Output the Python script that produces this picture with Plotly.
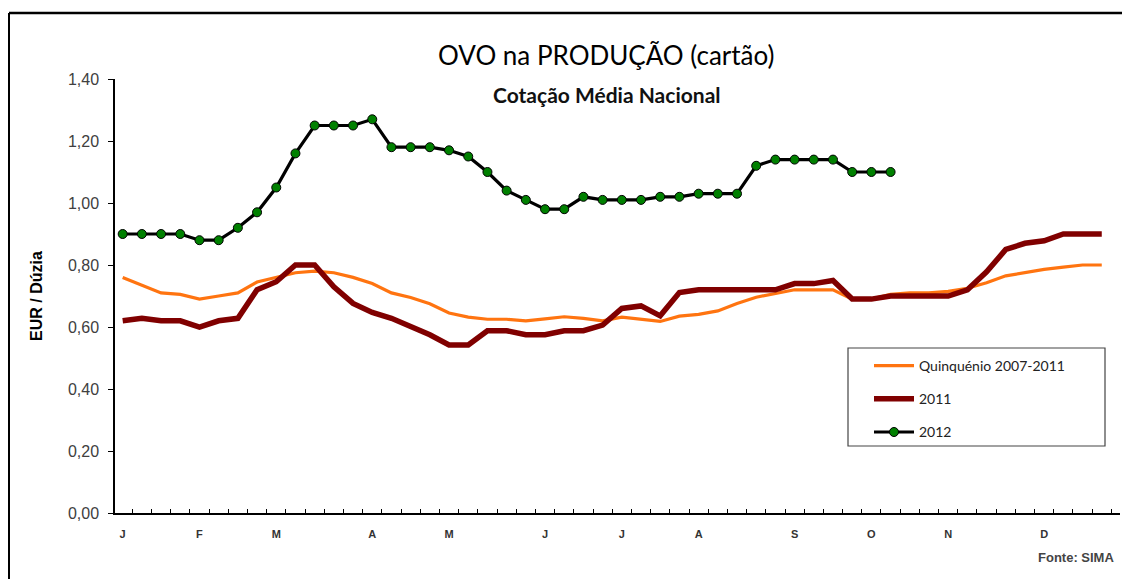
import plotly.graph_objects as go

# ---- data (weekly values, EUR / dúzia) ----
month_labels = ["J", "F", "M", "A", "M", "J", "J", "A", "S", "O", "N", "D"]
month_weeks = [0, 4, 8, 13, 17, 22, 26, 30, 35, 39, 43, 48]

quinquenio = [0.76, 0.735, 0.71, 0.705, 0.69, 0.70, 0.71, 0.745, 0.76, 0.775, 0.78, 0.775,
              0.76, 0.74, 0.71, 0.695, 0.675, 0.645, 0.632, 0.625, 0.625, 0.62, 0.626, 0.633,
              0.628, 0.62, 0.632, 0.625, 0.618, 0.635, 0.641, 0.652, 0.676, 0.696, 0.709, 0.72,
              0.72, 0.72, 0.69, 0.69, 0.705, 0.71, 0.71, 0.715, 0.725, 0.743, 0.765, 0.775,
              0.786, 0.793, 0.80, 0.80]
y2011 = [0.62, 0.628, 0.62, 0.62, 0.60, 0.62, 0.628, 0.72, 0.746, 0.80, 0.80, 0.73,
         0.676, 0.647, 0.628, 0.60, 0.575, 0.542, 0.542, 0.588, 0.588, 0.575, 0.575, 0.588,
         0.588, 0.606, 0.66, 0.668, 0.636, 0.711, 0.72, 0.72, 0.72, 0.72, 0.72, 0.74,
         0.74, 0.75, 0.69, 0.69, 0.70, 0.70, 0.70, 0.70, 0.72, 0.778, 0.85, 0.87,
         0.878, 0.90, 0.90, 0.90]
y2012 = [0.90, 0.90, 0.90, 0.90, 0.88, 0.88, 0.92, 0.97, 1.05, 1.16, 1.25, 1.25,
         1.25, 1.27, 1.18, 1.18, 1.18, 1.17, 1.15, 1.10, 1.04, 1.01, 0.98, 0.98,
         1.02, 1.01, 1.01, 1.01, 1.02, 1.02, 1.03, 1.03, 1.03, 1.12, 1.14, 1.14,
         1.14, 1.14, 1.10, 1.10, 1.10]

series_names = ["Quinquénio 2007-2011", "2011", "2012"]

# ---- layout geometry (page has an 8px body margin) ----
OFF = 8
W, H = 1130 - OFF, 579 - OFF
L, R, T, B = 115 - OFF, 10, 79 - OFF, 66
PW, PH = W - L - R, H - T - B


def px(x):
    return (x - OFF - L) / PW


def py(y):
    return (H - B - (y - OFF)) / PH


fig = go.Figure()
fig.add_trace(go.Scatter(
    x=list(range(len(quinquenio))), y=quinquenio, name=series_names[0],
    mode="lines", line=dict(color="#FF7410", width=3.2),
    legendgroup="a"))
fig.add_trace(go.Scatter(
    x=list(range(len(y2011))), y=y2011, name=series_names[1],
    mode="lines", line=dict(color="#800000", width=5.5),
    legendgroup="b"))
fig.add_trace(go.Scatter(
    x=list(range(len(y2012))), y=y2012, name=series_names[2],
    mode="lines+markers", line=dict(color="#000000", width=3.2),
    marker=dict(color="#008000", size=9, line=dict(color="#000000", width=1)),
    legendgroup="c"))

fig.update_layout(
    width=W, height=H,
    margin=dict(l=L, r=R, t=T, b=B, autoexpand=False),
    paper_bgcolor="white", plot_bgcolor="white",
    separators=",.",
    showlegend=True,
    legend=dict(x=px(869), y=py(350), xanchor="left", yanchor="top",
                bgcolor="rgba(0,0,0,0)", borderwidth=0,
                font=dict(family="Lato, Open Sans, sans-serif", size=14, color="#222"),
                tracegroupgap=12, itemwidth=40),
    xaxis=dict(range=[-0.4, 51.95], showgrid=False, zeroline=False,
               showline=True, linecolor="#000", linewidth=1.5,
               tickmode="array", tickvals=month_weeks,
               ticktext=["<b>%s</b>" % m for m in month_labels],
               ticks="", ticklabelstandoff=10,
               tickfont=dict(family="Arial, Liberation Sans, sans-serif", size=11, color="#333"),
               minor=dict(tick0=0.5, dtick=1, ticks="inside", ticklen=4,
                          tickcolor="#000", tickwidth=1, showgrid=False)),
    yaxis=dict(range=[0, 1.40], showgrid=False, zeroline=False,
               showline=True, linecolor="#000", linewidth=1.5,
               tickmode="linear", tick0=0, dtick=0.2, tickformat=".2f",
               ticks="outside", ticklen=5, tickcolor="#000",
               ticklabelstandoff=6,
               tickfont=dict(family="Arial, Liberation Sans, sans-serif", size=16, color="#404040"),
               title=dict(text="<b>EUR / Dúzia</b>", standoff=21,
                          font=dict(family="Arial, Liberation Sans, sans-serif", size=16, color="#000"))),
    annotations=[
        dict(text="OVO na PRODUÇÃO (cartão)", xref="paper", yref="paper",
             x=px(606), y=py(55), xanchor="center", yanchor="middle", showarrow=False,
             font=dict(family="Lato, Open Sans, sans-serif", size=26, color="#000")),
        dict(text="<b>Cotação Média Nacional</b>", xref="paper", yref="paper",
             x=px(607), y=py(94), xanchor="center", yanchor="middle", showarrow=False,
             font=dict(family="Lato, Open Sans, sans-serif", size=21, color="#111")),
        dict(text="<b>Fonte: SIMA</b>", xref="paper", yref="paper",
             x=px(1116), y=py(557), xanchor="right", yanchor="middle", showarrow=False,
             font=dict(family="Arial, Liberation Sans, sans-serif", size=13, color="#444")),
    ],
    shapes=[
        dict(type="rect", xref="paper", yref="paper",
             x0=px(848), x1=px(1105), y0=py(446), y1=py(348),
             line=dict(color="#444", width=1.2), fillcolor="white", layer="below"),
        dict(type="line", xref="paper", yref="paper",
             x0=px(9), x1=px(1132), y0=py(13), y1=py(13),
             line=dict(color="#000", width=2.5)),
        dict(type="line", xref="paper", yref="paper",
             x0=px(9), x1=px(9), y0=py(13), y1=py(581),
             line=dict(color="#000", width=2)),
    ],
)

fig.write_html("out.html")
